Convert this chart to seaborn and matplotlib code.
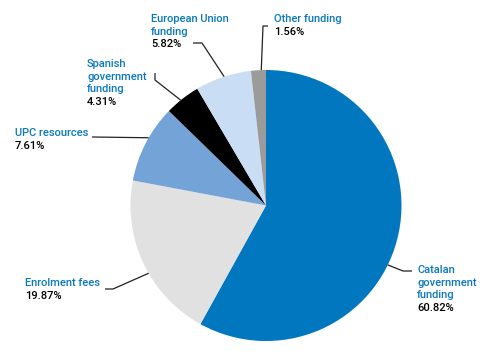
import numpy as np
import matplotlib
matplotlib.use("Agg")
import matplotlib.pyplot as plt
import seaborn as sns

# funding sources; wedge sizes as drawn in the picture (%), printed labels as shown
categories = ["Catalan government funding", "Enrolment fees", "UPC resources",
              "Spanish government funding", "European Union funding", "Other funding"]
wedge_shares = [58.06, 19.92, 9.33, 4.25, 6.69, 1.78]
label_lines = [["Catalan", "government", "funding"], ["Enrolment fees"], ["UPC resources"],
               ["Spanish", "government", "funding"], ["European Union", "funding"], ["Other funding"]]
pct_labels = ["60.82%", "19.87%", "7.61%", "4.31%", "5.82%", "1.56%"]
colors = ["#0077BE", "#E1E1E1", "#74A3D8", "#000000", "#C9DDF4", "#9B9B9B"]

sns.set_theme(style="white")
plt.rcParams["font.family"] = ["Roboto", "DejaVu Sans"]

W, H = 486, 359
fig = plt.figure(figsize=(W / 100, H / 100), dpi=100)
ax = fig.add_axes([0, 0, 1, 1])

cx, cy, r = 266, 205.5, 135.5
ax.pie(wedge_shares, colors=colors, startangle=90, counterclock=False,
       center=(cx, H - cy), radius=r, wedgeprops=dict(linewidth=0))
ax.set_xlim(0, W)
ax.set_ylim(0, H)
ax.set_aspect("equal")
ax.axis("off")

# label layout (pixels, y from top)
anchor_deg = [-26, -150, 150, 129, 108, 92]
elbows = [[(403, 271), (412, 271)], [(113, 289), (105, 289)], [(92, 137)],
          [(155, 80), (155, 73)], [(202, 43), (193, 43)], [(263, 26), (268, 26)]]
text_pos = [(417, 270), (25, 283), (15, 133), (87, 64), (151, 19), (274, 19)]
line_h = 12.7
blue = "#0A78BE"

for i in range(len(categories)):
    a = np.deg2rad(anchor_deg[i])
    pts = [(cx + r * np.cos(a), cy - r * np.sin(a))] + elbows[i]
    xs = [p[0] for p in pts]
    ys = [H - p[1] for p in pts]
    ax.plot(xs, ys, color="#222222", lw=0.9, solid_capstyle="butt")
    tx, ty = text_pos[i]
    for j, ln in enumerate(label_lines[i]):
        ax.text(tx, H - (ty + j * line_h), ln, color=blue, fontsize=8,
                fontweight="medium", ha="left", va="center")
    ax.text(tx, H - (ty + len(label_lines[i]) * line_h), pct_labels[i],
            color="black", fontsize=8, fontweight="medium", ha="left", va="center")

fig.savefig("out.png", dpi=100)
